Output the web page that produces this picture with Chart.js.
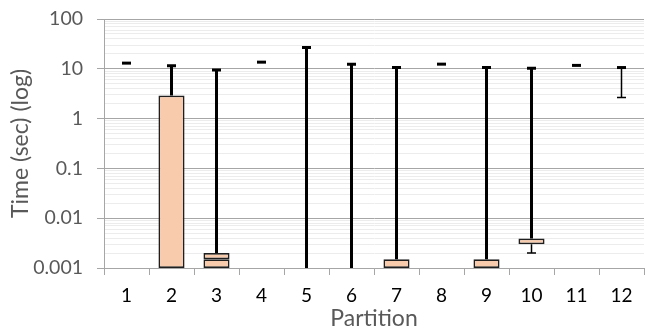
<!DOCTYPE html>
<html>
<head>
<meta charset="utf-8">
<script src="https://cdn.jsdelivr.net/npm/chart.js@4"></script>
<style>
  html, body { margin: 0; padding: 0; background: #fff; }
  #wrap { width: 664px; height: 332px; }
</style>
</head>
<body>
<div id="wrap"><canvas id="chart" width="664" height="332"></canvas></div>
<script>
const partitions = ['1', '2', '3', '4', '5', '6', '7', '8', '9', '10', '11', '12'];
// box plot values per partition (sec); 0.0001 = below the axis
const minTime    = [13.0, 0.001, 0.001,  13.6, 0.0001, 0.0001, 0.001,  12.4, 0.001,  0.002,  11.7, 2.65];
const q1Time     = [13.0, 0.001, 0.001,  13.6, 0.0001, 0.0001, 0.001,  12.4, 0.001,  0.003,  11.7, 10.6];
const medianTime = [13.0, 0.001, 0.0015, 13.6, 0.0001, 0.0001, 0.001,  12.4, 0.001,  0.003,  11.7, 10.6];
const q3Time     = [13.0, 2.9,   0.002,  13.6, 0.0001, 0.0001, 0.0015, 12.4, 0.0015, 0.0039, 11.7, 10.6];
const maxTime    = [13.0, 11.5,  9.5,    13.6, 26.8,   12.4,   10.6,   12.4, 10.6,   10.2,   11.7, 10.6];

const yTickValues = [0.001, 0.01, 0.1, 1, 10, 100];
const yTickLabels = ['0.001', '0.01', '0.1', '1', '10', '100'];
const minorSteps = [2, 3, 4, 5, 6, 7, 8, 9];

const lowerBox = q1Time.map((q, i) => medianTime[i] > q ? [q, medianTime[i]] : null);
const upperBox = q3Time.map((q, i) => q > medianTime[i] ? [medianTime[i], q] : null);

function isMajor(v) {
  const l = Math.log10(v);
  return Math.abs(l - Math.round(l)) < 1e-6;
}

const whiskers = {
  id: 'whiskers',
  afterDatasetsDraw(chart) {
    const {ctx, chartArea: a, scales: {x, y}} = chart;
    ctx.save();
    ctx.beginPath();
    ctx.rect(a.left, a.top - 10, a.right - a.left, a.bottom - a.top + 10);
    ctx.clip();
    ctx.strokeStyle = '#000';
    ctx.lineCap = 'butt';
    partitions.forEach((p, i) => {
      const px = x.getPixelForValue(i);
      const yTop = y.getPixelForValue(maxTime[i]);
      const yQ3 = y.getPixelForValue(q3Time[i]);
      ctx.lineWidth = 3;
      ctx.beginPath();
      ctx.moveTo(px, yQ3);
      ctx.lineTo(px, yTop);
      ctx.moveTo(px - 4.5, yTop);
      ctx.lineTo(px + 4.5, yTop);
      ctx.stroke();
      if (minTime[i] < q1Time[i]) {
        const yQ1 = y.getPixelForValue(q1Time[i]);
        const yMin = y.getPixelForValue(minTime[i]);
        ctx.lineWidth = 1.5;
        ctx.beginPath();
        ctx.moveTo(px, yQ1);
        ctx.lineTo(px, yMin);
        ctx.moveTo(px - 4.5, yMin);
        ctx.lineTo(px + 4.5, yMin);
        ctx.stroke();
      }
    });
    ctx.restore();
  }
};

const boxStyle = {
  backgroundColor: '#F8CBAD',
  borderColor: '#1f1f1f',
  borderWidth: 1.7,
  borderSkipped: false,
  grouped: false,
  barPercentage: 0.58,
  categoryPercentage: 1
};

new Chart(document.getElementById('chart'), {
  type: 'bar',
  data: {
    labels: partitions,
    datasets: [
      Object.assign({label: 'Q1-Median', data: lowerBox}, boxStyle),
      Object.assign({label: 'Median-Q3', data: upperBox}, boxStyle)
    ]
  },
  options: {
    responsive: false,
    animation: false,
    layout: { padding: { top: 19, right: 20, left: 0, bottom: 0 } },
    plugins: { legend: { display: false }, tooltip: { enabled: false } },
    scales: {
      x: {
        offset: true,
        grid: { offset: true, drawOnChartArea: false, tickLength: 7, color: '#a6a6a6' },
        border: { color: '#a6a6a6' },
        ticks: { color: '#000', font: { family: 'Lato', size: 19 }, padding: 9 },
        title: {
          display: true, text: 'Partition', color: '#595959',
          font: { family: 'Lato', size: 23 }, padding: { top: 0, bottom: 0 }
        },
        afterFit(scale) { scale.height = 64; }
      },
      y: {
        type: 'logarithmic',
        min: 0.001,
        max: 100,
        afterBuildTicks(scale) {
          const t = [];
          yTickValues.forEach((v, k) => {
            t.push({value: v});
            if (k < yTickValues.length - 1) minorSteps.forEach(m => t.push({value: m * v}));
          });
          scale.ticks = t;
        },
        grid: {
          color: c => isMajor(c.tick.value) ? '#a6a6a6' : '#ececec',
          tickColor: c => isMajor(c.tick.value) ? '#a6a6a6' : 'rgba(0,0,0,0)',
          tickLength: 7
        },
        border: { color: '#a6a6a6' },
        ticks: {
          autoSkip: false,
          color: '#595959',
          font: { family: 'Lato', size: 19.5 },
          padding: 14,
          callback(value) {
            const k = yTickValues.findIndex(v => Math.abs(v - value) < v * 1e-6);
            return k >= 0 ? yTickLabels[k] : '';
          }
        },
        title: {
          display: true, text: 'Time (sec) (log)', color: '#595959',
          font: { family: 'Lato', size: 23 }, padding: { top: 7, bottom: 0 }
        },
        afterFit(scale) {
          scale.width = 104;
          scale.paddingTop = 0;
          scale.paddingBottom = 0;
        }
      }
    }
  },
  plugins: [whiskers]
});
</script>
</body>
</html>
